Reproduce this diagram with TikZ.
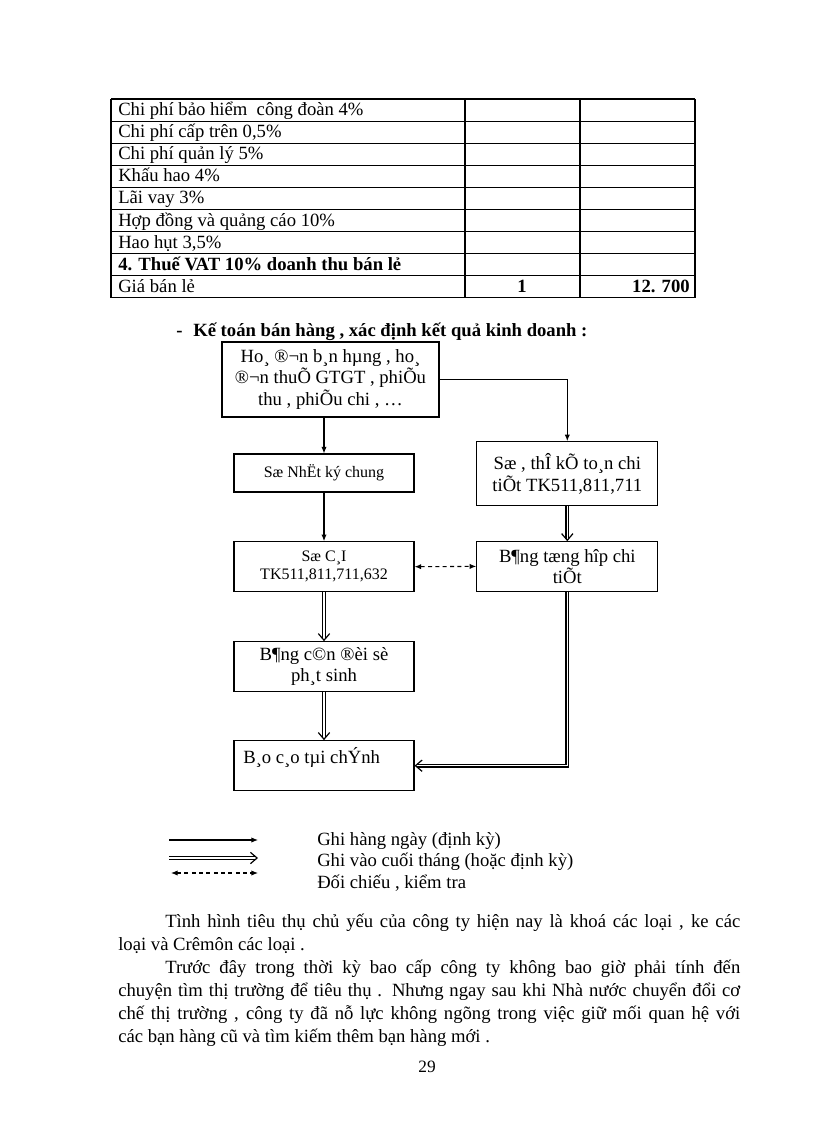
\documentclass[tikz,border=0pt]{standalone}
\usepackage{fontspec}
\setmainfont{Liberation Serif}
\usetikzlibrary{arrows.meta,decorations.markings}

\newcommand{\bodyfont}{\fontsize{14pt}{16.1pt}\selectfont}
\newcommand{\smallfont}{\fontsize{12pt}{13.7pt}\selectfont}

\tikzset{
  box/.style={draw, line width=0.8pt, align=center, inner sep=0pt, font=\bodyfont},
  smallbox/.style={box, font=\smallfont},
  txt/.style={anchor=base west, inner sep=0pt, font=\bodyfont},
  flow/.style={line width=0.8pt, -{Latex[length=5pt,width=4pt]}},
  monthly/.style={double, double distance=1.1pt, line width=0.85pt, shorten >=1.6pt,
     postaction={decorate, decoration={markings, mark=at position 1 with
        {\pgfsetinnerlinewidth{0pt}\arrow[line width=0.9pt]{Straight Barb[length=5pt,width=8.5pt]}}}}},
  check/.style={line width=0.8pt, dash pattern=on 3pt off 2.5pt, {Latex[length=5pt,width=4pt]}-{Latex[length=5pt,width=4pt]}}
}

\begin{document}
\begin{tikzpicture}[x=0.75pt,y=-0.75pt]
   \useasboundingbox (0,0) rectangle (816,1123);
   % bang gia
   \foreach \i in {0,...,9}
      \draw [line width=0.85pt] (111,99+22.1*\i) -- (695,99+22.1*\i);
   \foreach \x in {111,465,580,695}
      \draw [line width=0.85pt] (\x,99) -- (\x,297.9);
   \foreach \t [count=\i from 0] in {Chi phí bảo hiểm\ \ công đoàn 4\%, Chi phí cấp trên 0{,}5\%,
         Chi phí quản lý 5\%, Khấu hao 4\%, Lãi vay 3\%, Hợp đồng và quảng cáo 10\%, Hao hụt 3{,}5\%}
      \node [txt] at (118,115.6+22.1*\i) {\t};
   \node [txt] (thue) at (118,115.6+22.1*7) {\bfseries 4. Thuế VAT 10\% doanh thu bán lẻ};
   \node [txt] (giaban) at (118,115.6+22.1*8) {Giá bán lẻ};
   \node [anchor=base, inner sep=0pt, font=\bodyfont\bfseries] (soluong) at (522,115.6+22.1*8) {1};
   \node [anchor=base east, inner sep=0pt, font=\bodyfont\bfseries] (gia) at (690,115.6+22.1*8) {12. 700};

   % so do ke toan
   \node [txt, font=\bodyfont\bfseries] (gach) at (176,336) {-};
   \node [txt, font=\bodyfont\bfseries] (tieude) at (193,336) {Kế toán bán hàng , xác định kết quả kinh doanh :};

   \node [box, minimum width=162.75pt, minimum height=56.25pt] (chungtu) at (330.5,379.5)
      {Ho¸ ®¬n b¸n hµng , ho¸\\ ®¬n thuÕ GTGT , phiÕu\\ thu , phiÕu chi , …};
   \node [smallbox, minimum width=135pt, minimum height=28.5pt] (nhatky) at (324,473) {Sæ NhËt ký chung};
   \node [smallbox, minimum width=135pt, minimum height=37.5pt] (socai) at (324,566.7) {Sæ C¸I\\ TK511,811,711,632};
   \node [box, minimum width=135pt, minimum height=37pt] (candoi) at (324,666.4) {B¶ng c©n ®èi sè\\ ph¸t sinh};
   \node [box, minimum width=135pt, minimum height=37.5pt] (baocao) at (324,765.7) {};
   \node [txt] (baocaotxt) at (243,763) {B¸o c¸o tµi chÝnh};
   \node [box, minimum width=135.75pt, minimum height=48pt] (sothe) at (567.3,473.7)
      {Sæ , thÎ kÕ to¸n chi\\ tiÕt TK511,811,711};
   \node [box, minimum width=135.75pt, minimum height=37pt] (tonghop) at (567.3,566.4)
      {B¶ng tæng hîp chi\\ tiÕt};

   \draw [flow] (chungtu.south -| nhatky.north) -- (nhatky.north);
   \draw [flow] (chungtu.east) -| (sothe.north);
   \draw [flow] (nhatky.south) -- (socai.north);
   \draw [monthly] (socai.south) -- (candoi.north);
   \draw [monthly] (candoi.south) -- (baocao.north);
   \draw [monthly] (sothe.south) -- (tonghop.north);
   \draw [monthly] (tonghop.south) |- (baocao.east);
   \draw [check] (socai.east) -- (tonghop.west);

   % chu thich
   \coordinate (ngay1) at (169,840);  \coordinate (ngay2) at (258,840);
   \coordinate (thang1) at (169,858); \coordinate (thang2) at (258,858);
   \coordinate (doi1) at (171,873);   \coordinate (doi2) at (258,873);
   \draw [flow] (ngay1) -- (ngay2);
   \draw [monthly] (thang1) -- (thang2);
   \draw [check] (doi1) -- (doi2);
   \node [txt] (ghingay) at (317,845) {Ghi hàng ngày (định kỳ)};
   \node [txt] (ghithang) at (317,866) {Ghi vào cuối tháng (hoặc định kỳ)};
   \node [txt] (doichieu) at (317,888) {Đối chiếu , kiểm tra};

   % doan van
   \node [txt] (dong1) at (165,927) {\makebox[431.25pt][s]{Tình hình tiêu thụ chủ yếu của công ty hiện nay là khoá các loại , ke các}};
   \node [txt] (dong2) at (118,950) {loại và Crêmôn các loại .};
   \node [txt] (dong3) at (165,973) {\makebox[431.25pt][s]{Trước đây trong thời kỳ bao cấp công ty không bao giờ phải tính đến}};
   \node [txt] (dong4) at (118,996) {\makebox[466.5pt][s]{chuyện tìm thị trường để tiêu thụ . Nhưng ngay sau khi Nhà nước chuyển đổi cơ}};
   \node [txt] (dong5) at (118,1019) {\makebox[466.5pt][s]{chế thị trường , công ty đã nỗ lực không ngõng trong việc giữ mối quan hệ với}};
   \node [txt] (dong6) at (118,1042) {các bạn hàng cũ và tìm kiếm thêm bạn hàng mới .};
   \node [anchor=base, inner sep=0pt, font=\fontsize{13pt}{15pt}\selectfont] (trang) at (427,1072) {29};
\end{tikzpicture}
\end{document}
